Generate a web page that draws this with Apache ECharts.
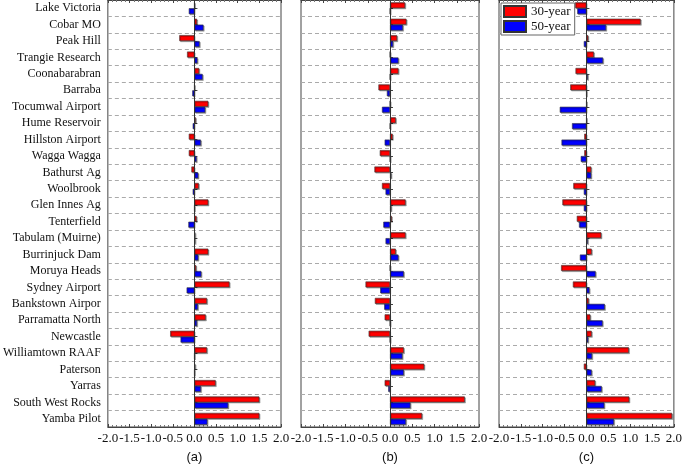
<!DOCTYPE html>
<html>
<head>
<meta charset="utf-8">
<script src="https://cdn.jsdelivr.net/npm/echarts@6/dist/echarts.min.js"></script>
<style>
html,body{margin:0;padding:0;background:#fff;}
#chart{width:685px;height:469px;}
</style>
</head>
<body>
<div id="chart"></div>
<script>
const stations = ['Lake Victoria','Cobar MO','Peak Hill','Trangie Research','Coonabarabran','Barraba','Tocumwal Airport','Hume Reservoir','Hillston Airport','Wagga Wagga','Bathurst Ag','Woolbrook','Glen Innes Ag','Tenterfield','Tabulam (Muirne)','Burrinjuck Dam','Moruya Heads','Sydney Airport','Bankstown Airpor','Parramatta North','Newcastle','Williamtown RAAF','Paterson','Yarras','South West Rocks','Yamba Pilot'];
const xTicks = [-2.0,-1.5,-1.0,-0.5,0.0,0.5,1.0,1.5,2.0];
const panelNames = ['(a)','(b)','(c)'];
const seriesNames = ['30-year','50-year'];

const a30 = [0, 0.06,-0.35,-0.17, 0.11, 0, 0.32, 0.03,-0.13,-0.13,-0.07, 0.10, 0.32, 0.05, 0.02, 0.32, 0.04, 0.81, 0.29, 0.26,-0.56, 0.29, 0.02, 0.49, 1.50, 1.50];
const a50 = [-0.13, 0.21, 0.12, 0.07, 0.19,-0.05, 0.25,-0.04, 0.15, 0.05, 0.09,-0.04, 0, -0.14, 0.02, 0.09, 0.16,-0.18, 0.08, 0.06,-0.32, 0, 0, 0.15, 0.78, 0.30];
const b30 = [0.34, 0.37, 0.16, 0, 0.19,-0.26, 0, 0.13, 0.06,-0.23,-0.35,-0.18, 0.35, 0.04, 0.35, 0.13, 0,-0.55,-0.34,-0.12,-0.48, 0.31, 0.77,-0.12, 1.68, 0.72];
const b50 = [0, 0.29, 0.07, 0.19, 0,-0.07,-0.18, 0,-0.12, 0, 0.03,-0.10, 0.03,-0.15,-0.10, 0.19, 0.31,-0.22,-0.13, 0, 0, 0.28, 0.31,-0.04, 0.46, 0.36];
const c30 = [-0.26, 1.24, 0.04, 0.17,-0.25,-0.37, 0, 0,-0.05,-0.05, 0.11,-0.30,-0.55,-0.22, 0.34, 0.12,-0.58,-0.31, 0.05, 0.09, 0.12, 0.97,-0.06, 0.20, 0.98, 1.96];
const c50 = [-0.21, 0.45,-0.06, 0.38, 0.03, 0,-0.61,-0.33,-0.57,-0.13, 0.11,-0.06,-0.06,-0.17, 0.03,-0.15, 0.21, 0.07, 0.42, 0.37, 0.04, 0.13, 0.12, 0.35, 0.41, 0.63];

const panels = [[a30,a50],[b30,b50],[c30,c50]];
const colors = ['#ff0000','#0000ff'];
const lefts = [103, 301, 499];
const pw = 178;

const serif = 'Liberation Serif';
const grids = [], xAxes = [], yAxes = [], series = [];
lefts.forEach((l, i) => {
  grids.push({left: l, width: pw, top: 0, bottom: 35, show: true, borderColor: '#444', borderWidth: 1, backgroundColor: 'transparent'});
  xAxes.push({
    type: 'value', gridIndex: i, min: xTicks[0], max: xTicks[xTicks.length-1], interval: 0.5,
    position: 'bottom',
    name: panelNames[i], nameLocation: 'middle', nameGap: 24,
    nameTextStyle: {fontFamily: 'Liberation Sans', fontSize: 13, color: '#111'},
    axisLine: {show: true, lineStyle: {color: '#444', width: 1}},
    axisTick: {show: true, inside: true, length: 3, lineStyle: {color: '#444'}},
    minorTick: {show: true, splitNumber: 5, length: 2, lineStyle: {color: '#777'}},
    splitLine: {show: false},
    axisLabel: {fontFamily: serif, fontSize: 13, color: '#111', margin: 5, formatter: v => v.toFixed(1)}
  });
  xAxes.push({
    type: 'value', gridIndex: i, min: xTicks[0], max: xTicks[xTicks.length-1], interval: 0.5,
    position: 'top',
    axisLine: {show: true, lineStyle: {color: '#444', width: 1}},
    axisTick: {show: true, inside: true, length: 3, lineStyle: {color: '#444'}},
    minorTick: {show: true, splitNumber: 5, length: 2, lineStyle: {color: '#777'}},
    splitLine: {show: false},
    axisLabel: {show: false}
  });
  yAxes.push({
    type: 'category', gridIndex: i, data: stations, inverse: true,
    axisLine: {show: true, lineStyle: {color: '#444', width: 1}},
    axisTick: {show: true, inside: true, alignWithLabel: true, length: 3, lineStyle: {color: '#444'}},
    splitLine: {show: true, lineStyle: {color: '#aaa', type: [4, 3], width: 1}},
    axisLabel: {show: i === 0, fontFamily: serif, fontSize: 12, color: '#111', margin: 7}
  });
  panels[i].forEach((vals, k) => {
    const s = {
      type: 'bar', name: seriesNames[k], xAxisIndex: i*2, yAxisIndex: i, data: vals,
      barCategoryGap: '28%', barGap: '0%',
      itemStyle: {color: colors[k], borderColor: '#333', borderWidth: 0.6,
        shadowColor: 'rgba(0,0,0,0.35)', shadowOffsetX: 1, shadowOffsetY: 1, shadowBlur: 0},
      animation: false
    };
    if (k === 0) {
      s.markLine = {silent: true, symbol: 'none', label: {show: false},
        lineStyle: {color: '#333', type: 'solid', width: 1}, data: [{xAxis: 0}], animation: false};
    }
    series.push(s);
  });
});

const chart = echarts.init(document.getElementById('chart'), null, {renderer: 'canvas'});
chart.setOption({
  animation: false,
  backgroundColor: '#fff',
  grid: grids,
  xAxis: xAxes,
  yAxis: yAxes,
  legend: {
    data: seriesNames, orient: 'vertical', left: 501, top: 3,
    itemWidth: 22, itemHeight: 11, itemGap: 2, padding: [2, 4, 2, 2],
    backgroundColor: '#fff', borderColor: '#666', borderWidth: 1,
    icon: 'rect',
    textStyle: {fontFamily: serif, fontSize: 13, color: '#111'}
  },
  series: series
});
</script>
</body>
</html>
